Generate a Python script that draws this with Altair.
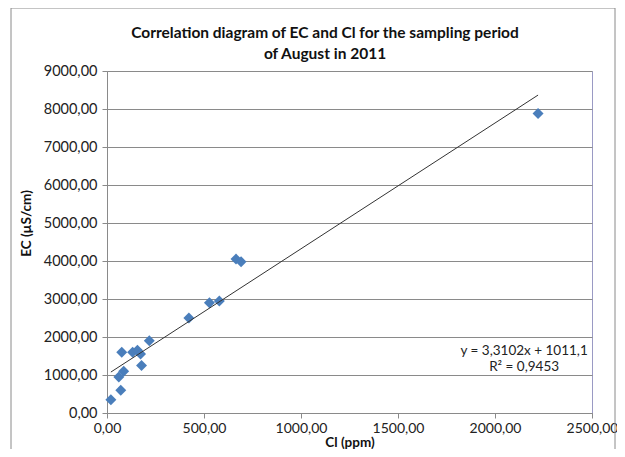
import altair as alt
import pandas as pd

cl = [20, 71, 61, 86, 76, 132, 157, 173, 178, 218, 422, 528, 579, 665, 691, 2222]
ec = [350, 600, 950, 1100, 1600, 1600, 1650, 1550, 1250, 1900, 2500, 2900, 2950, 4050, 3980, 7880]

trend_x = [20, 2222]
slope = 3.3102
intercept = 1011.1

eq_lines = ["y = 3,3102x + 1011,1", "R² = 0,9453"]
eq_x = [2150, 2150]
eq_y = [1640, 1215]

title_lines = ["Correlation diagram of EC and Cl for the sampling period", "of August in 2011"]

FONT = "Lato"
fmt = "replace(format(datum.value, '.2f'), '.', ',')"
W, H = 485, 342

pts = pd.DataFrame({"cl": cl, "ec": ec})
trend = pd.DataFrame({"cl": trend_x, "ec": [slope * v + intercept for v in trend_x]})
eq = pd.DataFrame({"t": eq_lines, "x": eq_x, "y": eq_y})
ttl = pd.DataFrame({"t": title_lines, "row": [0, 1]})

xs = alt.Scale(domain=[0, 2500], nice=False)
ys = alt.Scale(domain=[0, 9000], nice=False)

xax = alt.Axis(values=[0, 500, 1000, 1500, 2000, 2500], labelExpr=fmt, grid=False,
               title="Cl (ppm)", titleFontWeight="bold", titleFontSize=13.5,
               titleY=29, titleBaseline="middle", titleAlign="center",
               labelFontSize=14, labelPadding=3, tickSize=5,
               labelFlush=False)
yax = alt.Axis(values=list(range(0, 9001, 1000)), labelExpr=fmt, grid=True,
               title="EC (µS/cm)", titleFontWeight="bold", titleFontSize=13.5,
               titleX=-81, titleY=152, titleBaseline="middle", titleAlign="center",
               labelFontSize=14.5, labelPadding=5, tickSize=5)

X = lambda f: alt.X(f, scale=xs, axis=xax)
Y = lambda f: alt.Y(f, scale=ys, axis=yax)

border = alt.Chart(pd.DataFrame({"a": [0]})).mark_rect(
    fill=None, stroke="#8a8a8a", strokeWidth=1
).encode(x=alt.value(-96), x2=alt.value(W + 23), y=alt.value(-63), y2=alt.value(H + 40))

points = alt.Chart(pts).mark_point(
    shape="diamond", filled=True, size=120, color="#4A7EBB", opacity=1
).encode(x=X("cl:Q"), y=Y("ec:Q"))

line = alt.Chart(trend).mark_line(color="#333333", strokeWidth=1).encode(
    x=X("cl:Q"), y=Y("ec:Q"))

text = alt.Chart(eq).mark_text(font=FONT, fontSize=13.5, color="#222222", align="center").encode(
    x=X("x:Q"), y=Y("y:Q"), text="t:N")

title = alt.Chart(ttl).transform_calculate(
    py="datum.row * 21 - 38"
).mark_text(font=FONT, fontSize=15.5, fontWeight="bold", color="#111111", align="center",
            baseline="middle").encode(
    x=alt.value(218), y=alt.Y("py:Q", scale=None), text="t:N")

chart = alt.layer(border, points, line, text, title).properties(
    width=W, height=H,
    autosize=alt.AutoSizeParams(type="none"),
    padding={"left": 99, "top": 63, "right": 609 - 99 - W, "bottom": 36},
).configure_view(stroke="#9a9ac4", strokeWidth=1).configure_axis(
    labelFont=FONT, titleFont=FONT, labelColor="#222222", titleColor="#111111",
    domainColor="#8a8a8a", tickColor="#8a8a8a", gridColor="#8a8a8a", gridWidth=1
)

chart.save("out.html", embed_options={"renderer": "svg", "actions": False})
